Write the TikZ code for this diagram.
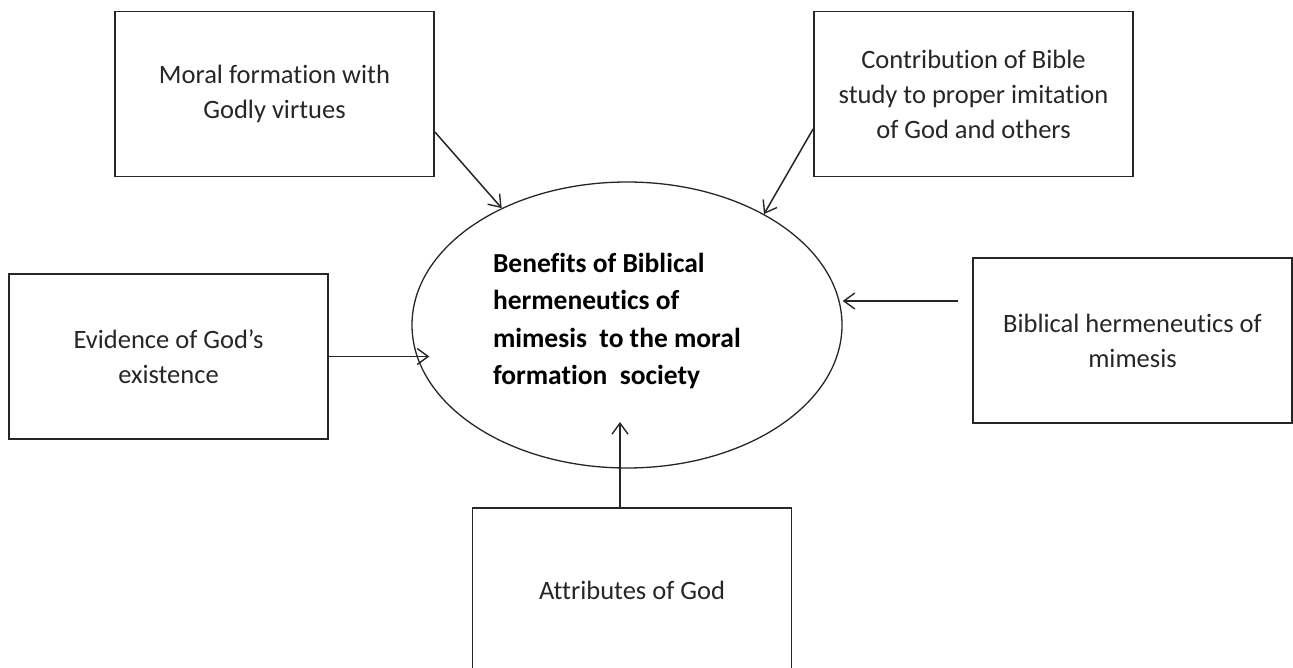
\documentclass[tikz,border=0pt]{standalone}
\usepackage{fontspec}
\setmainfont{Carlito}[Ligatures=NoCommon]
\usetikzlibrary{arrows.meta,shapes.geometric,calc}
\tikzset{
  boxnode/.style={draw=black!85, line width=1.8pt, rectangle, minimum width=319pt, minimum height=165pt, inner sep=0pt, align=center, text=black!85, font=\fontsize{26.5}{35}\selectfont},
  centre/.style={draw=black!85, line width=1.3pt, ellipse, minimum width=430pt, minimum height=286pt, inner sep=0pt, text=black, font=\fontsize{27.5}{37.5}\selectfont\bfseries},
  conn/.style={line width=1.5pt, draw=black!85, -{Straight Barb[length=11pt,width=16pt,line width=1.4pt]}}
}
\begin{document}
\begin{tikzpicture}[x=1pt,y=-1pt]
\useasboundingbox (0,0) rectangle (1293,668);
\node[centre] (el) at (627,325) {\begin{minipage}{268pt}\raggedright Benefits of Biblical\\ hermeneutics of\\ mimesis~ to the moral\\ formation~ society\par\vspace*{8pt}\end{minipage}};
\node[boxnode] (tl) at (274.5,94) {Moral formation with\\ Godly virtues};
\node[boxnode] (tr) at (973.5,94) {Contribution of Bible\\ study to proper imitation\\ of God and others};
\node[boxnode] (l) at (168.5,356.5) {Evidence of God’s\\ existence};
\node[boxnode] (r) at (1132.5,340.5) {Biblical hermeneutics of\\ mimesis};
\node[boxnode] (b) at (632,590.5) {Attributes of God};
\coordinate (rs) at ([xshift=-14pt,yshift=39.5pt]r.west);
\coordinate (ltip) at ([xshift=18pt]l.east -| el.west);
\coordinate (btip) at ([xshift=-7pt,yshift=-97pt]el.center);
\draw[conn] ([yshift=-38pt]tl.east) -- (el.137);
\draw[conn] ([yshift=-35pt]tr.west) -- (el.39);
\draw[conn] (l.east) -- (ltip);
\draw[conn] (rs) -- (rs -| el.east);
\draw[conn] ([xshift=-12pt]b.north) -- (btip);
\end{tikzpicture}
\end{document}
